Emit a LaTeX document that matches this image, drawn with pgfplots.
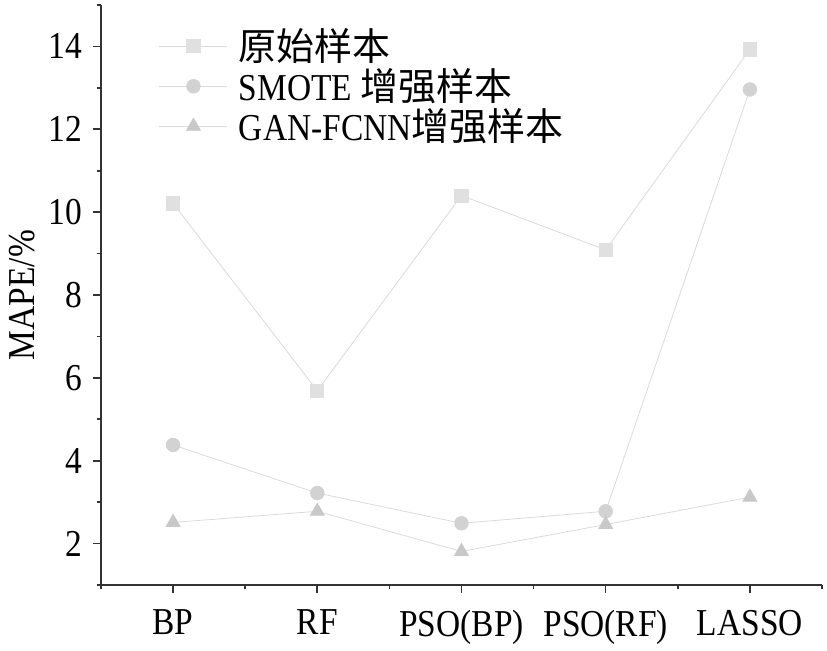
\documentclass[border=0pt]{standalone}
\usepackage{pgfplots}
\pgfplotsset{compat=1.18}
\usepackage{fontspec}
\setmainfont{Liberation Serif}[FakeStretch=0.88]
\newfontfamily\cjk{Noto Sans CJK SC}
\definecolor{sq}{HTML}{E0E0E0}
\definecolor{ci}{HTML}{D2D2D2}
\definecolor{tr}{HTML}{C8C8C8}
\definecolor{ln}{HTML}{DADADA}
\begin{document}
\begin{tikzpicture}
\path[use as bounding box] (-50.5pt,-32.5pt) rectangle (363pt,292.5pt);
\begin{axis}[
  scale only axis,
  width=360.5pt, height=290pt,
  xmin=-0.5, xmax=4.5, ymin=1, ymax=15,
  axis lines=left,
  axis line style={-, line width=0.8pt, black!80},
  xtick={0,1,2,3,4},
  xticklabels={BP,RF,PSO(BP),PSO(RF),LASSO},
  minor xtick={-0.5,0.5,1.5,2.5,3.5,4.5},
  ytick={2,4,...,14},
  minor ytick={1,3,...,15},
  tick align=outside,
  major tick length=4pt, minor tick length=2.2pt,
  tick style={line width=0.8pt, black!80},
  font=\fontsize{19}{22}\selectfont,
  /pgf/number format/assume math mode=true,
  ylabel={MAPE/\%},
  ylabel style={yshift=0pt},
  xticklabel style={yshift=-5pt},
  yticklabel style={xshift=-2pt},
  legend style={draw=none, fill=none, at={(0.08,0.965)}, anchor=north west,
    row sep=-0.5pt, font=\fontsize{19}{22}\selectfont, inner sep=0pt,
    nodes={inner sep=1.5pt},
    /tikz/every odd column/.append style={column sep=4pt}},
  legend cell align=left,
  legend image code/.code={\draw[mark repeat=2, mark phase=2, #1] plot coordinates {(0pt,0pt) (17pt,0pt) (34pt,0pt)};},
  clip=false,
]
\addplot[color=ln, line width=0.4pt, mark=square*, mark size=3.3pt, mark options={fill=sq, draw=sq}]
  coordinates {(0,10.21) (1,5.69) (2,10.40) (3,9.09) (4,13.93)};
\addlegendentry{{\cjk 原始样本}}
\addplot[color=ln, line width=0.4pt, mark=*, mark size=3.4pt, mark options={fill=ci, draw=ci}]
  coordinates {(0,4.38) (1,3.22) (2,2.49) (3,2.78) (4,12.96)};
\addlegendentry{SMOTE {\cjk 增强样本}}
\addplot[color=ln, line width=0.4pt, mark=triangle*, mark size=4pt, mark options={fill=tr, draw=tr}]
  coordinates {(0,2.51) (1,2.78) (2,1.81) (3,2.46) (4,3.12)};
\addlegendentry{GAN-FCNN{\cjk 增强样本}}
\end{axis}
\end{tikzpicture}
\end{document}
